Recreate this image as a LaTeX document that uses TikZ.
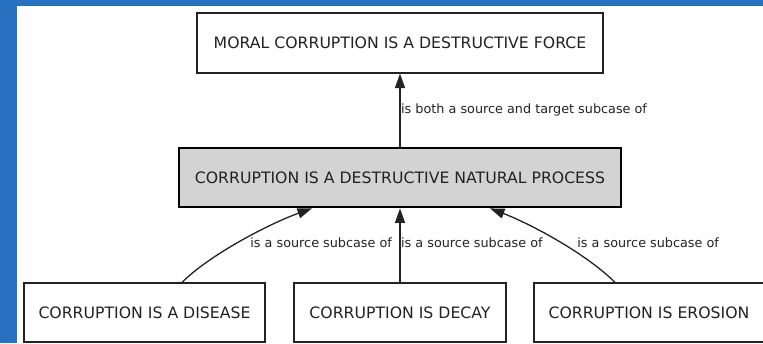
\documentclass[tikz,border=0pt]{standalone}
\usepackage{fontspec}
\setmainfont{DejaVu Sans}
\usetikzlibrary{arrows.meta}
\definecolor{frameblue}{RGB}{40,112,192}
\definecolor{ink}{RGB}{34,34,34}
\definecolor{hubfill}{RGB}{211,211,211}
\begin{document}
\begin{tikzpicture}[x=1pt,y=-1pt,
  box/.style={draw=ink, line width=1.2pt, fill=white, inner sep=0pt,
    minimum height=59pt, text=ink, font=\fontsize{15.7}{18}\selectfont},
  hub/.style={box, draw=black, fill=hubfill, line width=2.8pt},
  rel/.style={draw=ink, line width=1.3pt, -{Triangle[length=14.5pt,width=10pt]}},
  tag/.style={font=\fontsize{12.8}{15}\selectfont, text=ink, inner sep=0pt, anchor=west}]
\useasboundingbox (0,0) rectangle (763,343);
% window frame
\fill[frameblue] (0,0) rectangle (17,343);
\fill[frameblue] (0,0) rectangle (763,6);

% concepts
\node[box, minimum width=406pt, minimum height=60pt] (force) at (400,43)
  {MORAL CORRUPTION IS A DESTRUCTIVE FORCE};
\node[hub, minimum width=442pt, minimum height=59pt] (process) at (400,177.5)
  {CORRUPTION IS A DESTRUCTIVE NATURAL PROCESS};
\node[box, minimum width=241pt] (disease) at (144.5,312.5) {CORRUPTION IS A DISEASE};
\node[box, minimum width=212pt] (decay) at (400,312.5) {CORRUPTION IS DECAY};
\node[box, minimum width=230pt] (erosion) at (649,312.5) {CORRUPTION IS EROSION};

% subcase relations
\draw[rel] (process.north) -- node[tag, midway, xshift=0.5pt]
  {is both a source and target subcase of} (force.south);
\draw[rel] ([xshift=37.5pt]disease.north) .. controls +(28,-28) and +(-42,15) ..
  node[tag, pos=0.5, xshift=8pt, yshift=-2pt] {is a source subcase of}
  ([xshift=-88pt]process.south);
\draw[rel] (decay.north) -- node[tag, pos=0.53, xshift=0.5pt]
  {is a source subcase of} (process.south);
\draw[rel] ([xshift=-34pt]erosion.north) .. controls +(-28,-28) and +(42,16) ..
  node[tag, pos=0.5, xshift=19pt, yshift=-2pt] {is a source subcase of}
  ([xshift=90pt]process.south);
\end{tikzpicture}
\end{document}
